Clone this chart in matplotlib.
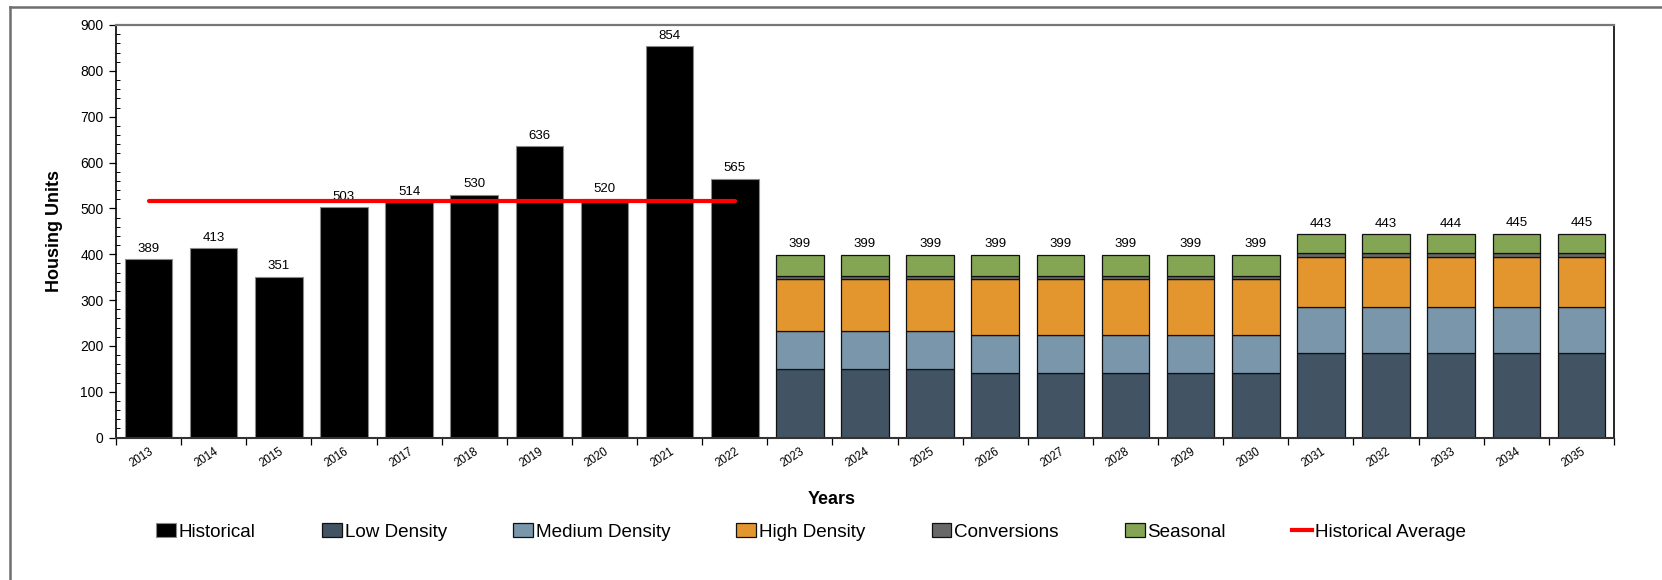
import matplotlib
matplotlib.use("Agg")
import matplotlib.pyplot as plt
from matplotlib.patches import Patch
from matplotlib.lines import Line2D
from matplotlib.ticker import MultipleLocator, FixedLocator, NullFormatter
import numpy as np

plt.rcParams['font.family'] = ['Liberation Sans', 'DejaVu Sans']

years = [str(y) for y in range(2013, 2036)]
hist_years = years[:10]
proj_years = years[10:]

historical = [389, 413, 351, 503, 514, 530, 636, 520, 854, 565]
historical_average = 515

low_density = [149, 149, 149, 140, 140, 140, 140, 140, 184, 184, 184, 184, 184]
medium_density = [83, 83, 83, 83, 83, 83, 83, 83, 100, 100, 100, 100, 100]
high_density = [113, 113, 113, 122, 122, 122, 122, 122, 109, 109, 109, 109, 109]
conversions = [8, 8, 8, 8, 8, 8, 8, 8, 9, 9, 9, 9, 9]
seasonal = [46, 46, 46, 46, 46, 46, 46, 46, 41, 41, 42, 43, 43]

colors = {
    'Historical': '#000000',
    'Low Density': '#425363',
    'Medium Density': '#7a96aa',
    'High Density': '#e3962e',
    'Conversions': '#686868',
    'Seasonal': '#84a554',
}

fig = plt.figure(figsize=(16.62, 5.80), dpi=100)
ax = fig.add_axes([116 / 1662, 1 - 437.5 / 580, (1614 - 116) / 1662, (437.5 - 25) / 580])

x_all = np.arange(len(years))
x_hist = x_all[:10]
x_proj = x_all[10:]
bw = 0.73

# historical bars
ax.bar(x_hist, historical, width=bw, color=colors['Historical'],
       edgecolor='#8a8a8a', linewidth=0.8, zorder=2)
for xi, v in zip(x_hist, historical):
    ax.annotate(f"{v}", (xi, v), xytext=(0, 3), textcoords='offset points',
                ha='center', va='bottom', fontsize=9.5)

# projected stacked bars
bottom = np.zeros(len(proj_years))
for name, vals in [('Low Density', low_density), ('Medium Density', medium_density),
                   ('High Density', high_density), ('Conversions', conversions),
                   ('Seasonal', seasonal)]:
    vals = np.array(vals)
    ax.bar(x_proj, vals, width=bw, bottom=bottom, color=colors[name],
           edgecolor='#111111', linewidth=0.9, zorder=2)
    bottom = bottom + vals
for xi, v in zip(x_proj, bottom):
    ax.annotate(f"{int(v)}", (xi, v), xytext=(0, 3), textcoords='offset points',
                ha='center', va='bottom', fontsize=9.5)

# historical average line
ax.plot([x_hist[0], x_hist[-1]], [historical_average, historical_average],
        color='#ff0000', linewidth=3, solid_capstyle='round', zorder=3)

ax.set_xlim(-0.5, len(years) - 0.5)
ax.set_ylim(0, 900)

ax.yaxis.set_major_locator(MultipleLocator(100))
ax.yaxis.set_minor_locator(MultipleLocator(20))
ax.tick_params(axis='y', which='major', direction='out', length=5, width=0.9,
               labelsize=10, pad=4)
ax.tick_params(axis='y', which='minor', direction='in', length=3, width=0.7)

# ticks at category boundaries, labels at category centres
ax.xaxis.set_major_locator(FixedLocator(np.arange(-0.5, len(years), 1.0)))
ax.xaxis.set_major_formatter(NullFormatter())
ax.tick_params(axis='x', which='major', direction='out', length=5, width=0.9)
ax.set_xticks(x_all, minor=True)
ax.set_xticklabels(years, minor=True, rotation=33, ha='right', va='top',
                   rotation_mode='anchor', fontsize=8.3)
ax.tick_params(axis='x', which='minor', length=0, pad=6)

for s in ['left', 'right']:
    ax.spines[s].set_color('#000000')
    ax.spines[s].set_linewidth(1.2)
ax.spines['bottom'].set_color('#333333')
ax.spines['bottom'].set_linewidth(1.5)
ax.spines['top'].set_color('#777777')
ax.spines['top'].set_linewidth(1.6)

ax.set_ylabel('Housing Units', fontsize=13, fontweight='bold', labelpad=12)
fig.text(832 / 1662, 1 - 500 / 580, 'Years', ha='center', va='center',
         fontsize=13, fontweight='bold')

handles = [Patch(facecolor=colors['Historical'], edgecolor='#8a8a8a', linewidth=0.8),
           Patch(facecolor=colors['Low Density'], edgecolor='#111111', linewidth=0.9),
           Patch(facecolor=colors['Medium Density'], edgecolor='#111111', linewidth=0.9),
           Patch(facecolor=colors['High Density'], edgecolor='#111111', linewidth=0.9),
           Patch(facecolor=colors['Conversions'], edgecolor='#111111', linewidth=0.9),
           Patch(facecolor=colors['Seasonal'], edgecolor='#111111', linewidth=0.9),
           Line2D([0], [0], color='#ff0000', linewidth=3)]
labels = ['Historical', 'Low Density', 'Medium Density', 'High Density',
          'Conversions', 'Seasonal', 'Historical Average']
fig.legend(handles, labels, loc='center', bbox_to_anchor=(811 / 1662, 1 - 532 / 580),
           ncol=7, frameon=False, fontsize=13.6, handlelength=1.05, handleheight=0.75,
           handletextpad=0.15, columnspacing=3.5, borderpad=0)

# outer chart frame
fig.add_artist(Line2D([10 / 1662, 1.0], [1 - 7 / 580, 1 - 7 / 580],
                      transform=fig.transFigure, color='#6e6e6e', linewidth=1.8))
fig.add_artist(Line2D([10 / 1662, 10 / 1662], [1 - 7 / 580, 0.0],
                      transform=fig.transFigure, color='#6e6e6e', linewidth=1.8))

fig.savefig('out.png', dpi=100)
